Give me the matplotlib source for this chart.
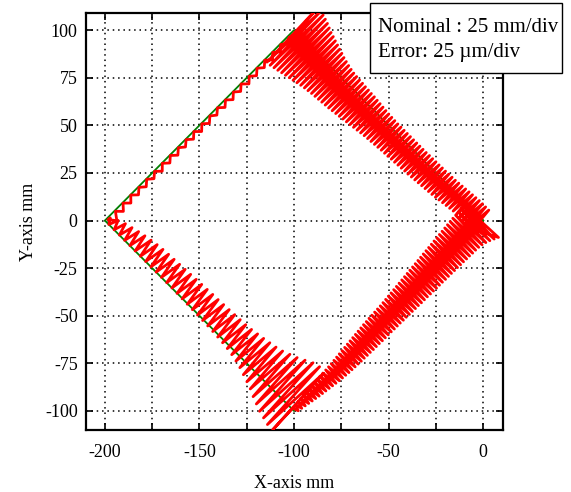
import numpy as np
import matplotlib
matplotlib.use("Agg")
import matplotlib.pyplot as plt
from matplotlib.patches import Rectangle

plt.rcParams['font.family'] = ['Liberation Serif', 'DejaVu Serif']

# nominal square path (mm)
corner_x = [0, -100, -200, -100, 0]
corner_y = [0, 100, 0, -100, 0]

# error trace: peak offsets from the nominal side (scaled, + = outward),
# one value per oscillation cycle
side1_out = [6, 6, 6, 6, 5.8, 5.6, 5.4, 5.2, 5, 4.8, 4.6, 4.5,
             4.4, 4.3, 4.3, 4.2, 4.2, 4.1, 4.1, 4, 4, 4, 4, 4,
             4, 4, 4, 4, 4, 4.1, 4.2, 4.3, 4.5, 4.7, 4.9, 5.1,
             5.3, 5.4, 5.6, 5.7, 5.9, 6, 6.2, 6.4, 6.8, 7.3, 7.9, 8.5,
             9.3, 10, 10.8, 11.5, 12.3, 13, 14, 15, 15.8, 16.5, 17, 17]
side1_in = [-7, -7, -7, -7, -7.2, -7.4, -7.7, -8, -8.3, -8.6, -8.9, -9.2,
            -9.5, -9.7, -9.9, -10.1, -10.3, -10.5, -10.7, -10.9, -11, -11.2, -11.3, -11.5,
            -11.6, -11.8, -11.9, -12, -12.2, -12.4, -12.6, -12.8, -13, -13.3, -13.6, -13.9,
            -14.2, -14.5, -14.8, -15.1, -15.4, -15.7, -16, -16.2, -16.4, -16.6, -16.8, -17,
            -17.3, -17.6, -18, -18.5, -19, -19.5, -20, -20.5, -21, -21.5, -22, -22]

side2_out = [-0.8, -0.4, -0.3, -0.2, -0.3, -0.4, -0.2, -0.3, -0.3, -0.2, -0.4, -0.3,
             -0.2, -0.3, -0.4, -0.3, -0.2, -0.3, -0.3, -0.4, -0.2, -0.3, -0.5, -0.8]
side2_in = [-2.0, -2.6, -2.8, -3.0, -2.8, -2.9, -3.1, -2.8, -3.0, -2.9, -2.7, -3.0,
            -3.1, -2.9, -2.8, -3.0, -2.9, -3.1, -2.8, -2.9, -3.0, -3.2, -3.5, -4.5]

side3_out = [0, 0, 0, 0, 0, 0, 0, 0, 0, 0, 0, 0,
             0, 0.1, 0.2, 0.3, 0.4, 0.5, 0.6, 0.7, 0.9, 1.1, 1.4, 1.8,
             2.4, 3.2, 4.2, 5.5, 6.8, 8.2, 10, 11.5, 13, 14, 15, 15]
side3_in = [-3, -5, -6.5, -7.5, -8.5, -9.3, -10, -10.6, -11, -11.3, -11.5, -11.7,
            -11.9, -12.1, -12.3, -12.5, -12.7, -12.9, -13, -13.2, -13.4, -13.6, -13.8, -14,
            -14.4, -15, -15.6, -16.3, -17, -18, -19.5, -21, -23, -25, -26, -25]

side4_out = [1.5, 1.9, 2.3, 2.7, 3.1, 3.5, 3.9, 4.2, 4.5, 4.8, 5.1, 5.4, 5.7, 5.9, 6.1, 6.3,
             6.4, 6.5, 6.6, 6.7, 6.7, 6.8, 6.8, 6.9, 6.9, 6.9, 7, 7, 7, 7, 7.1, 7.1,
             7.1, 7.2, 7.2, 7.3, 7.3, 7.4, 7.4, 7.5, 7.5, 7.5, 7.6, 7.6, 7.7, 7.7, 7.7, 7.8,
             7.8, 7.8, 7.9, 7.9, 8, 8, 8.1, 8.1, 8.2, 8.2, 8.3, 8.6, 9.2, 10, 11, 12]
side4_in = [-1.5, -1.7, -1.9, -2.1, -2.3, -2.5, -2.7, -2.9, -3, -3.1, -3.2, -3.3, -3.4, -3.5, -3.7, -3.9,
            -4.1, -4.3, -4.5, -4.7, -4.9, -5.1, -5.3, -5.5, -5.7, -5.9, -6.1, -6.2, -6.4, -6.5, -6.6, -6.7,
            -6.8, -7, -7.2, -7.4, -7.6, -7.8, -8, -8.2, -8.4, -8.6, -8.8, -9, -9.2, -9.4, -9.6, -9.8,
            -10, -10.2, -10.4, -10.6, -10.8, -11, -11.2, -11.4, -11.6, -11.8, -12, -12.2, -12.3, -12.4, -12.5, -12.5]

sides_out = [side1_out, side2_out, side3_out, side4_out]
sides_in = [side1_in, side2_in, side3_in, side4_in]

xticks = list(range(-200, 1, 25))
yticks = list(range(-100, 101, 25))

# build error trace along the nominal path
ex, ey = [], []
for i in range(4):
    sx, sy = corner_x[i], corner_y[i]
    dx, dy = corner_x[i + 1] - sx, corner_y[i + 1] - sy
    L = np.hypot(dx, dy)
    nx, ny = dy / L, -dx / L
    peaks = np.column_stack([sides_in[i], sides_out[i]]).ravel()
    t = (np.arange(len(peaks)) + 0.5) / len(peaks)
    ex.extend(sx + t * dx + peaks * nx)
    ey.extend(sy + t * dy + peaks * ny)
ex.append(ex[0])
ey.append(ey[0])

fig = plt.figure(figsize=(5.71, 4.92), dpi=100)
ax = fig.add_axes([86 / 571, 1 - 430 / 492, 417 / 571, 417 / 492])

ax.plot(corner_x, corner_y, color='#008000', lw=1.3, zorder=2)
ax.plot(ex, ey, color='#ff0000', lw=2.0, solid_joinstyle='round',
        solid_capstyle='round', zorder=3)

ax.set_xlim(-210, 10.5)
ax.set_ylim(-110, 109)
ax.set_xticks(xticks)
ax.set_xticklabels([str(v) if v % 50 == 0 else '' for v in xticks])
ax.set_yticks(yticks)
ax.set_yticklabels([str(v) for v in yticks])
ax.grid(True, color='black', linestyle=(0, (1, 2.5)), linewidth=1.1)
ax.tick_params(direction='in', length=5, width=1.2, top=True, right=True,
               labelsize=13, pad=6)
ax.tick_params(axis='x', pad=10)
for s in ax.spines.values():
    s.set_linewidth(1.6)

ax.set_xlabel('X-axis mm', fontsize=13, labelpad=10)
ax.set_ylabel('Y-axis mm', fontsize=13, labelpad=6)

# scale box
fig.patches.append(Rectangle((370 / 571, 1 - 73 / 492), 192 / 571, 70 / 492,
                             transform=fig.transFigure, facecolor='white',
                             edgecolor='black', lw=1.0, zorder=5))
fig.text(378 / 571, 1 - 32 / 492, 'Nominal : 25 mm/div', fontsize=15,
         va='baseline', zorder=6)
fig.text(378 / 571, 1 - 57 / 492, 'Error: 25 \u00b5m/div', fontsize=15,
         va='baseline', zorder=6)

fig.savefig('out.png', dpi=100)
